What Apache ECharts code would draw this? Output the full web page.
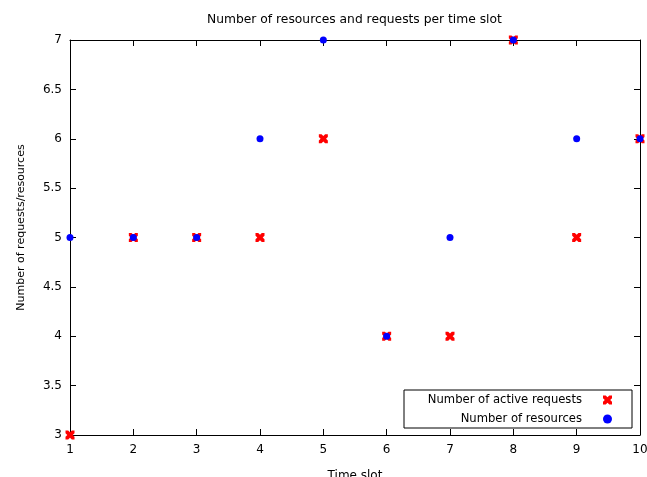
<!DOCTYPE html>
<html>
<head>
<meta charset="utf-8">
<script src="https://cdn.jsdelivr.net/npm/echarts@6/dist/echarts.min.js"></script>
<style>
  html, body { margin: 0; padding: 0; background: #fff; }
  #main { width: 647px; height: 477px; }
</style>
</head>
<body>
<div id="main"></div>
<script>
// data
var timeSlots = [1, 2, 3, 4, 5, 6, 7, 8, 9, 10];
var activeRequests = [3, 5, 5, 5, 6, 4, 4, 7, 5, 6];
var resources = [5, 5, 5, 6, 7, 4, 5, 7, 6, 6];

var font = 'DejaVu Sans';
var crossPath = 'path://M0,0 L3,0 L5,2 L7,0 L10,0 L10,3 L8,5 L10,7 L10,10 L7,10 L5,8 L3,10 L0,10 L0,7 L2,5 L0,3 Z';

function pairs(xs, ys) {
  return xs.map(function (x, i) { return [x, ys[i]]; });
}

var chart = echarts.init(document.getElementById('main'), null, { renderer: 'canvas' });

var tickIn = { show: true, inside: true, length: 6, lineStyle: { color: '#000' } };

var option = {
  animation: false,
  backgroundColor: '#fff',
  title: {
    text: 'Number of resources and requests per time slot',
    left: 202,
    top: 9,
    textStyle: { fontFamily: font, fontSize: 12.3, fontWeight: 'normal', color: '#000' }
  },
  grid: { left: 70, right: 7, top: 40, bottom: 42, outerBoundsMode: 'none' },
  legend: {
    orient: 'vertical',
    right: 15,
    bottom: 49,
    align: 'right',
    borderColor: '#000',
    borderWidth: 1,
    padding: [3, 20, 2, 18],
    itemGap: 5,
    itemWidth: 9,
    itemHeight: 9,
    textStyle: {
      fontFamily: font, fontSize: 11.6, color: '#000',
      width: 160, align: 'right', lineHeight: 14, padding: [0, 16, 0, 0]
    },
    data: [
      { name: 'Number of active requests', icon: crossPath },
      { name: 'Number of resources', icon: 'circle' }
    ]
  },
  xAxis: [{
    type: 'value',
    min: 1, max: 10, interval: 1,
    name: 'Time slot',
    nameLocation: 'middle',
    nameGap: 35,
    nameTextStyle: { fontFamily: font, fontSize: 12, color: '#000' },
    axisLine: { show: true, lineStyle: { color: '#000', width: 1 } },
    axisTick: tickIn,
    axisLabel: { fontFamily: font, fontSize: 12, color: '#000', margin: 9 },
    splitLine: { show: false }
  }, {
    type: 'value', position: 'top',
    min: 1, max: 10, interval: 1,
    axisLine: { show: true, onZero: false, lineStyle: { color: '#000', width: 1 } },
    axisTick: tickIn,
    axisLabel: { show: false },
    splitLine: { show: false }
  }],
  yAxis: [{
    type: 'value',
    min: 3, max: 7, interval: 0.5,
    name: 'Number of requests/resources',
    nameLocation: 'middle',
    nameGap: 43,
    nameTextStyle: { fontFamily: font, fontSize: 11, color: '#000', padding: [0, 0, 0, 20] },
    axisLine: { show: true, lineStyle: { color: '#000', width: 1 } },
    axisTick: tickIn,
    axisLabel: { fontFamily: font, fontSize: 12, color: '#000', margin: 8 },
    splitLine: { show: false }
  }, {
    type: 'value', position: 'right',
    min: 3, max: 7, interval: 0.5,
    axisLine: { show: true, onZero: false, lineStyle: { color: '#000', width: 1 } },
    axisTick: tickIn,
    axisLabel: { show: false },
    splitLine: { show: false }
  }],
  series: [{
    name: 'Number of active requests',
    type: 'scatter',
    symbol: crossPath,
    symbolSize: 9,
    clip: false,
    itemStyle: { color: '#ff0000', opacity: 1 },
    data: pairs(timeSlots, activeRequests),
    z: 3
  }, {
    name: 'Number of resources',
    type: 'scatter',
    symbol: 'circle',
    symbolSize: 7,
    clip: false,
    itemStyle: { color: '#0000ff', opacity: 1 },
    data: pairs(timeSlots, resources),
    z: 4
  }]
};

chart.setOption(option);
</script>
</body>
</html>
